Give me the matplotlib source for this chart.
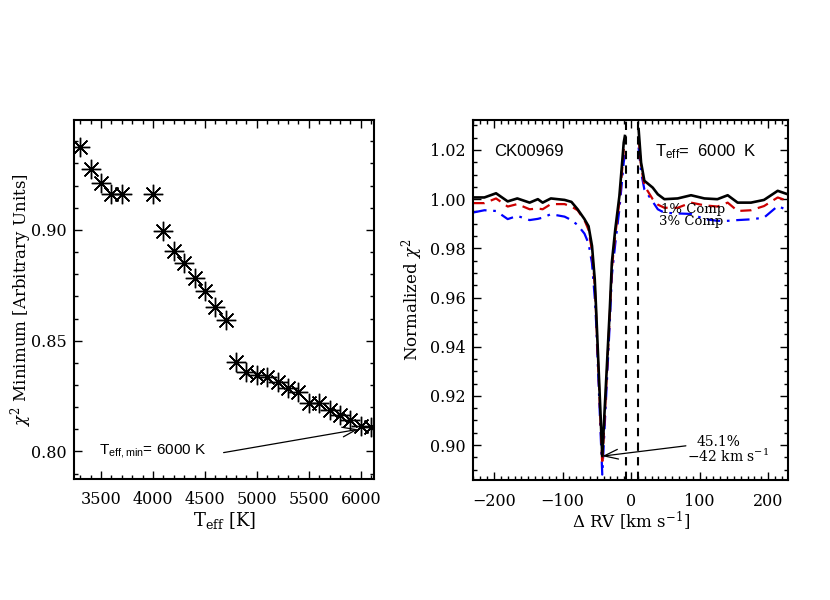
import numpy as np
import matplotlib
matplotlib.use('Agg')
import matplotlib.pyplot as plt
from matplotlib.ticker import MultipleLocator, FormatStrFormatter

# left panel: chi^2 minimum vs Teff
teff = [3300, 3400, 3500, 3600, 3700, 4000, 4100, 4200, 4300, 4400, 4500, 4600, 4700,
        4800, 4900, 5000, 5100, 5200, 5300, 5400, 5500, 5600, 5700, 5800, 5900, 6000, 6100]
chi_min = [0.9373, 0.9275, 0.9210, 0.9163, 0.9163, 0.9163, 0.8997, 0.8906, 0.8849, 0.8783,
           0.8726, 0.8654, 0.8594, 0.8402, 0.8357, 0.8345, 0.8334, 0.8312, 0.8285, 0.8267,
           0.8217, 0.8217, 0.8187, 0.8164, 0.8142, 0.8116, 0.8109]

# right panel: normalized chi^2 vs delta RV (gap between the dashed lines)
rv = [-230, -214, -197, -180, -166, -148, -136, -129, -117, -97, -87, -78, -68, -62, -57,
      -53, -51, -42, -31, -28, -23, -17, -13, -10.7, -9, np.nan, 11, 14.6, 19.4, 31.6, 39,
      48.6, 68, 87.5, 107, 126, 141, 155.5, 175, 194, 214, 228.5]
chi_best = [1.0007, 1.0007, 1.0024, 0.9991, 1.0003, 0.9986, 1.0000, 0.9986, 1.0003, 0.9997,
            0.9989, 0.9959, 0.9919, 0.9890, 0.9810, 0.9675, 0.9553, 0.8955, 0.9553, 0.9743,
            0.9878, 1.0013, 1.0149, 1.0230, 1.0257, np.nan, 1.0285, 1.0149, 1.0075, 1.0047,
            1.0020, 1.0000, 1.0003, 1.0016, 1.0003, 1.0000, 1.0016, 0.9986, 0.9986, 0.9997,
            1.0034, 1.0020]
chi_1pct = [0.9984, 0.9984, 1.0003, 0.9970, 0.9980, 0.9959, 0.9962, 0.9959, 0.9980, 0.9980,
            0.9970, 0.9955, 0.9915, 0.9875, 0.9790, 0.9650, 0.9530, 0.8920, 0.9530, 0.9720,
            0.9855, 0.9990, 1.0120, 1.0200, 1.0225, np.nan, 1.0250, 1.0135, 1.0055, 1.0000,
            0.9978, 0.9965, 0.9965, 0.9986, 0.9975, 0.9970, 0.9986, 0.9952, 0.9955, 0.9972,
            1.0007, 0.9993]
chi_3pct = [0.9946, 0.9955, 0.9952, 0.9919, 0.9932, 0.9915, 0.9920, 0.9925, 0.9939, 0.9929,
            0.9915, 0.9895, 0.9860, 0.9820, 0.9740, 0.9600, 0.9500, 0.8880, 0.9500, 0.9690,
            0.9820, 0.9960, 1.0080, 1.0150, 1.0180, np.nan, 1.0210, 1.0110, 1.0040, 0.9990,
            0.9959, 0.9945, 0.9942, 0.9940, 0.9919, 0.9912, 0.9912, 0.9915, 0.9918, 0.9925,
            0.9972, 0.9955]
rv_mask = [-8, 10]

plt.rcParams['font.family'] = ['DejaVu Serif']
plt.rcParams['mathtext.fontset'] = 'dejavuserif'
plt.rcParams['axes.linewidth'] = 1.5

fig = plt.figure(figsize=(8.3, 6.0), dpi=100)
ax1 = fig.add_axes([0.0892, 0.2017, 0.3614, 0.598])
ax2 = fig.add_axes([0.5699, 0.2000, 0.3795, 0.600])

def style(ax):
    ax.tick_params(which='both', direction='in', top=True, right=True, width=1, labelsize=11.5)
    ax.tick_params(which='major', length=6)
    ax.tick_params(which='minor', length=3)
    ax.tick_params(axis='x', pad=9)
    ax.tick_params(axis='y', pad=5)

# ---- left
ax1.plot(teff, chi_min, ls='none', color='k', marker='.', ms=4)
ax1.plot(teff, chi_min, ls='none', marker=(8, 2, 0), ms=14, mew=1.0, color='k')
ax1.set_xlim(3240, 6128)
ax1.set_ylim(0.7876, 0.9495)
ax1.xaxis.set_major_locator(MultipleLocator(500))
ax1.xaxis.set_minor_locator(MultipleLocator(100))
ax1.yaxis.set_major_locator(MultipleLocator(0.05))
ax1.yaxis.set_minor_locator(MultipleLocator(0.01))
ax1.yaxis.set_major_formatter(FormatStrFormatter('%.2f'))
style(ax1)
ax1.set_xlabel(r'T$\mathregular{_{eff}}$ [K]', fontsize=13, labelpad=1)
ax1.set_ylabel(r'$\chi^2$ Minimum [Arbitrary Units]', fontsize=12, labelpad=-2)
ax1.text(3480, 0.800, r'T$\mathregular{_{eff,min}}$= 6000 K', family='Liberation Sans',
         fontsize=11, va='center', ha='left')
ax1.annotate('', xy=(5975, 0.810), xytext=(4680, 0.7995),
             arrowprops=dict(arrowstyle='->,head_length=1.0,head_width=0.35', lw=0.9, color='k',
                             shrinkA=0, shrinkB=0))

# ---- right
ax2.plot(rv, chi_3pct, color='#0000ff', lw=1.6, dashes=(6, 3, 1.2, 3))
ax2.plot(rv, chi_1pct, color='#cc0000', lw=1.6, dashes=(5, 3))
ax2.plot(rv, chi_best, color='k', lw=1.9)
for v in rv_mask:
    ax2.axvline(v, color='k', lw=1.5, dashes=(4, 3))
ax2.set_xlim(-230.6, 229)
ax2.set_ylim(0.8858, 1.0322)
ax2.xaxis.set_major_locator(MultipleLocator(100))
ax2.xaxis.set_minor_locator(MultipleLocator(10))
ax2.yaxis.set_major_locator(MultipleLocator(0.02))
ax2.yaxis.set_minor_locator(MultipleLocator(0.005))
ax2.yaxis.set_major_formatter(FormatStrFormatter('%.2f'))
style(ax2)
ax2.set_xlabel(r'$\mathregular{\Delta}$ RV [km s$^{-1}$]', fontsize=12, labelpad=0)
ax2.set_ylabel(r'Normalized $\chi^2$', fontsize=12, labelpad=4)
ax2.text(-200, 1.0195, 'CK00969', family='Liberation Sans', fontsize=12, va='center')
ax2.text(35, 1.0195, r'T$\mathregular{_{eff}}$=  6000  K', family='Liberation Sans',
         fontsize=12, va='center')
ax2.text(43, 0.9959, '1% Comp', fontsize=9.5, va='center')
ax2.text(41, 0.9908, '3% Comp', fontsize=9.5, va='center')
ax2.text(128, 0.9012, '45.1%', fontsize=10, va='center', ha='center')
ax2.text(141, 0.8955, r'$-$42 km s$^{-1}$', fontsize=10, va='center', ha='center')
ax2.annotate('', xy=(-42, 0.8955), xytext=(80, 0.8997),
             arrowprops=dict(arrowstyle='->,head_length=1.0,head_width=0.35', lw=0.9, color='k',
                             shrinkA=0, shrinkB=0))

fig.savefig('out.png', dpi=100)
